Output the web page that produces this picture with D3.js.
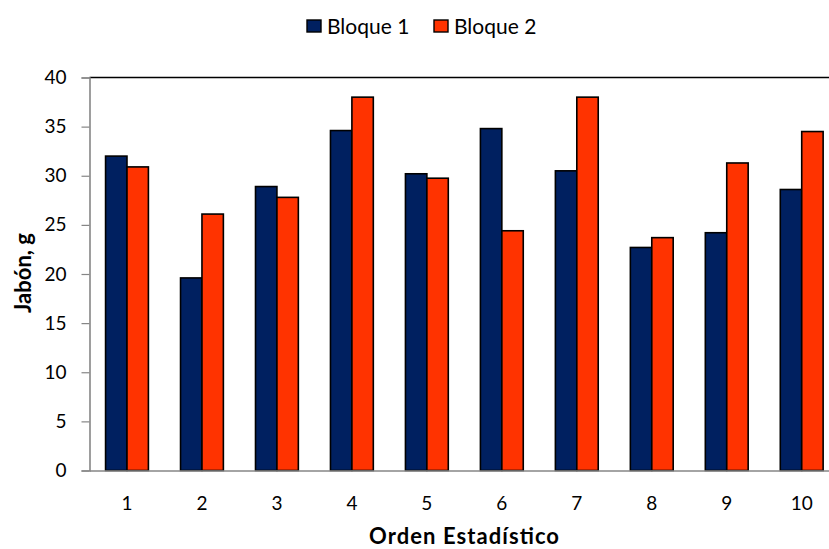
<!DOCTYPE html>
<html>
<head>
<meta charset="utf-8">
<script src="https://cdn.jsdelivr.net/npm/d3@7"></script>
<style>
  html, body { margin: 0; padding: 0; background: #fff; }
  svg { display: block; font-family: Lato, "Open Sans", sans-serif; }
</style>
</head>
<body>
<svg id="chart" width="829" height="549"></svg>
<script>
// Soap yield per statistical order, two blocks
const categories = ["1", "2", "3", "4", "5", "6", "7", "8", "9", "10"];
const seriesNames = ["Bloque 1", "Bloque 2"];
const bloque1 = [32.0, 19.6, 28.9, 34.6, 30.2, 34.8, 30.5, 22.7, 24.2, 28.6];
const bloque2 = [30.9, 26.1, 27.8, 38.0, 29.75, 24.4, 38.0, 23.7, 31.3, 34.5];
const yTicks = [0, 5, 10, 15, 20, 25, 30, 35, 40];
const colors = ["#002060", "#FF3300"];

const svg = d3.select("#chart");
const plotLeft = 89.5, plotRight = 839.2, plotTop = 77.5, plotBottom = 470.5;

const x = d3.scaleBand().domain(categories).range([plotLeft, plotRight]).padding(0);
const gapRatio = 1.5 / 3.5; // Excel gap width 150%
const bw = x.bandwidth();
const x1 = d3.scaleBand().domain(seriesNames)
  .range([bw * gapRatio / 2, bw - bw * gapRatio / 2]).padding(0);
const y = d3.scaleLinear().domain([0, 40]).range([plotBottom, plotTop]);

const rows = categories.map((c, i) => ({ cat: c, values: [bloque1[i], bloque2[i]] }));

// Bars
const groups = svg.append("g").selectAll("g").data(rows).join("g")
  .attr("transform", d => `translate(${x(d.cat)},0)`);
groups.selectAll("rect")
  .data(d => d.values.map((v, k) => ({ name: seriesNames[k], v, k })))
  .join("rect")
  .attr("x", d => x1(d.name))
  .attr("width", x1.bandwidth())
  .attr("y", d => y(d.v))
  .attr("height", d => y(0) - y(d.v))
  .attr("fill", d => colors[d.k])
  .attr("stroke", "#000")
  .attr("stroke-width", 1.6);

// Top border of plot area
svg.append("line")
  .attr("x1", plotLeft).attr("x2", plotRight).attr("y1", plotTop).attr("y2", plotTop)
  .attr("stroke", "#000").attr("stroke-width", 1.6);

// Y axis
const yAxis = svg.append("g")
  .attr("transform", `translate(${plotLeft},0)`)
  .call(d3.axisLeft(y).tickValues(yTicks).tickSize(8).tickPadding(15));
yAxis.select(".domain").attr("stroke", "#868686").attr("stroke-width", 1.6);
yAxis.selectAll(".tick line").attr("stroke", "#868686").attr("stroke-width", 1.2);
yAxis.selectAll(".tick text")
  .attr("font-family", "Lato, sans-serif").attr("font-size", 19).attr("fill", "#000");

// X axis
const xAxis = svg.append("g")
  .attr("transform", `translate(0,${plotBottom})`)
  .call(d3.axisBottom(x).tickSize(0).tickPadding(26));
xAxis.select(".domain").attr("stroke", "#868686").attr("stroke-width", 1.6);
xAxis.selectAll(".tick text")
  .attr("font-family", "Lato, sans-serif").attr("font-size", 19).attr("fill", "#000");

// Axis titles
svg.append("text")
  .attr("x", 464).attr("y", 544)
  .attr("text-anchor", "middle")
  .attr("font-size", 22).attr("font-weight", "bold")
  .attr("textLength", 190).attr("lengthAdjust", "spacing")
  .text("Orden Estadístico");

svg.append("text")
  .attr("transform", "translate(31,273) rotate(-90)")
  .attr("text-anchor", "middle")
  .attr("font-size", 22).attr("font-weight", "bold")
  .text("Jabón, g");

// Legend
const legendX = [307, 434];
const legend = svg.append("g").selectAll("g").data(seriesNames).join("g")
  .attr("transform", (d, i) => `translate(${legendX[i]},20)`);
legend.append("rect")
  .attr("width", 14).attr("height", 12)
  .attr("fill", (d, i) => colors[i])
  .attr("stroke", "#000").attr("stroke-width", 1.4);
legend.append("text")
  .attr("x", 20).attr("y", 13.5)
  .attr("font-size", 21).attr("fill", "#000")
  .text(d => d);
</script>
</body>
</html>
